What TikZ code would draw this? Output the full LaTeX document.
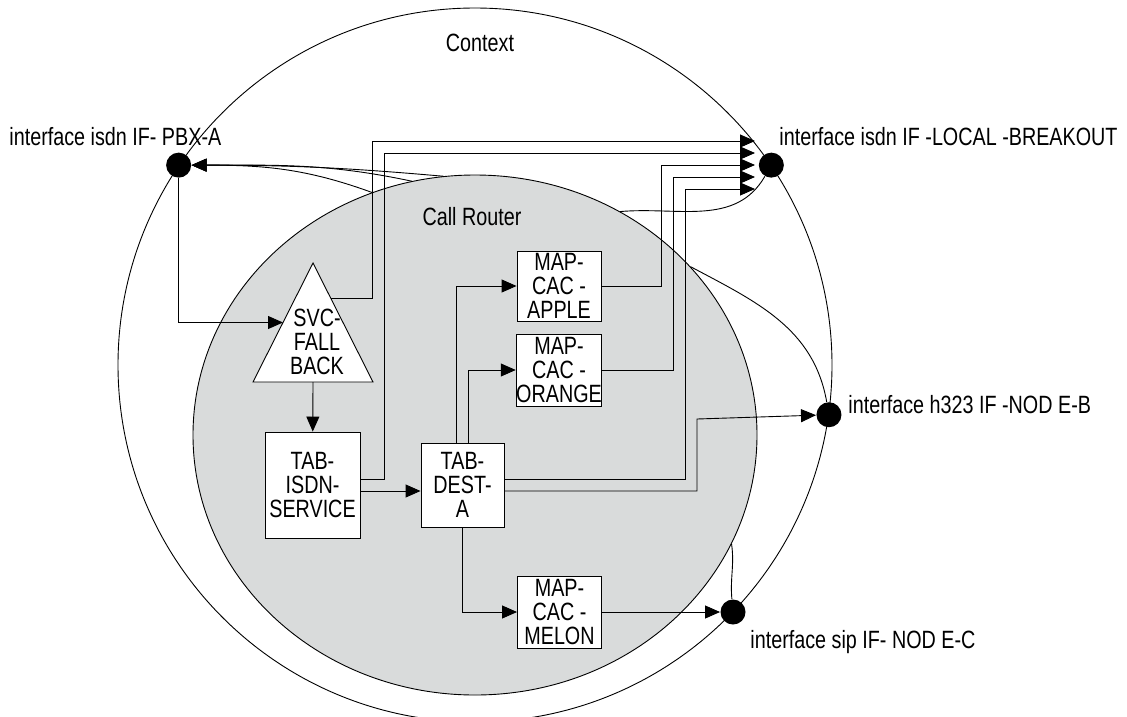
\documentclass[tikz,border=0pt]{standalone}
\usepackage{fontspec}
\setmainfont{Liberation Sans}[FakeStretch=0.79]
\usetikzlibrary{shapes.geometric,arrows.meta,calc}
\definecolor{routergray}{RGB}{217,219,219}
\tikzset{
  txt/.style={font=\fontsize{25}{24}\selectfont},
  box/.style={txt, draw, fill=white, align=center, inner sep=0pt, minimum width=84pt, minimum height=72pt},
  dot/.style={circle, fill=black, minimum size=25pt, inner sep=0pt},
  iface/.style={txt, anchor=base west, inner sep=0pt},
}
\begin{document}
\begin{tikzpicture}[x=1pt,y=-1pt,>={Triangle[length=15pt,width=13pt]},line width=0.9pt]
      \useasboundingbox (0,0) rectangle (1127,716);
      \clip (0,0) rectangle (1127,716);
      % context and call router
      \node[circle, draw, minimum size=714pt, inner sep=0pt] (ctx) at (475,365) {};
      \node[ellipse, draw, fill=routergray, minimum width=564pt, minimum height=520pt, inner sep=0pt] (router) at (475,435) {};
      \node[txt] (ctxlabel) at (480,43) {Context};
      \node[txt] (routerlabel) at (472,217) {Call Router};
      % interfaces
      \node[dot] (pbx) at (ctx.146) {};
      \node[dot] (brk) at (ctx.34.3) {};
      \node[dot] (h323) at (ctx.-8.7) {};
      \node[dot] (sip) at (733,612) {};
      \coordinate (bin) at (755,165);
      \node[iface] (pbxlabel) at (9,145) {interface isdn IF- PBX-A};
      \node[iface] (brklabel) at (779,145) {interface isdn IF -LOCAL -BREAKOUT};
      \node[iface] (h323label) at (848,413) {interface h323 IF -NOD E-B};
      \node[iface] (siplabel) at (750,648) {interface sip IF- NOD E-C};
      % tables and maps
      \draw[fill=white] (313,263) coordinate (svctop) -- (373,382) coordinate (svcright) -- (253,382) coordinate (svcleft) -- cycle;
      \node[txt, align=center, inner sep=0pt] (svc) at (317,342) {SVC-\\FALL\\BACK};
      \node[box, minimum width=95pt, minimum height=106pt] (tabisdn) at (312.5,485) {TAB-\\ISDN-\\SERVICE};
      \node[box, minimum width=83pt, minimum height=84pt] (tabdest) at (462.5,485) {TAB-\\DEST-\\A};
      \node[box, minimum height=70pt] (apple) at (559,286) {MAP-\\CAC -\\APPLE};
      \node[box] (orange) at (559,370) {MAP-\\CAC -\\ORANGE};
      \node[box] (melon) at (559.5,612) {MAP-\\CAC -\\MELON};
      % connectors
      \draw[->] (pbx) |- ($(svctop)!.5!(svcleft)$);
      \draw[->] ($(svcleft)!.5!(svcright)$) -- (tabisdn);
      \draw[->] ([yshift=-6pt]tabisdn.east) -- ([yshift=-6pt]tabdest.west);
      \draw[->] ($(svctop)!.3!(svcright)$) -| (372,141) -- ([yshift=24pt]bin);
      \draw[->] ([yshift=6pt]tabisdn.east) -| (384,153) -- ([yshift=12pt]bin);
      \draw[->] (apple) -| (661,165) -- (bin);
      \draw[->] (orange) -| (673,177) -- ([yshift=-12pt]bin);
      \draw[->] ([yshift=6pt]tabdest.east) -| (685,189) -- ([yshift=-24pt]bin);
      \draw[->] ([yshift=-6pt]tabdest.east) -| (697,419) -- (h323);
      \draw[->] ([xshift=-6pt]tabdest.north) |- (apple);
      \draw[->] ([xshift=6pt]tabdest.north) |- (orange);
      \draw[->] (tabdest) |- (melon);
      \draw[->] (melon) -- (sip);
      \draw[->] (router.113) to[out=160,in=0] (pbx);
      \draw[->] (router.104.5) to[out=168,in=0] (pbx);
      \draw[->] (router.97) to[out=175,in=0] (pbx);
      \draw (router.57) to[out=5,in=-120] (brk);
      \draw (router.38.6) to[out=-28,in=100] (h323);
      \draw (router.-23.6) to[out=-82,in=95] (sip);
\end{tikzpicture}
\end{document}
